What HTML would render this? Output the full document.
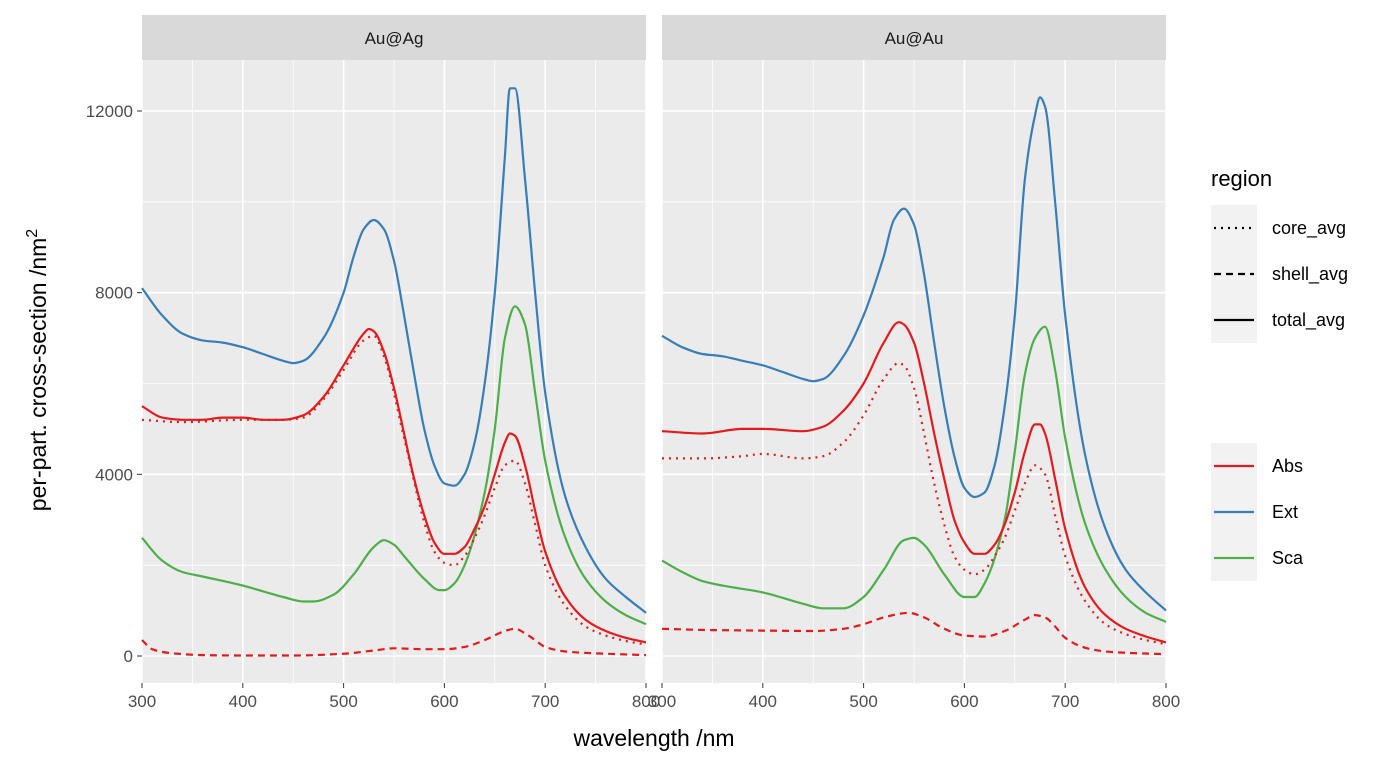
<!DOCTYPE html>
<html><head><meta charset="utf-8"><style>
body{margin:0;background:#fff;font-family:"Liberation Sans",Arial,sans-serif}
svg text{font-family:"Liberation Sans",Arial,sans-serif}
</style></head><body>
<svg id="chart" width="1400" height="768" xmlns="http://www.w3.org/2000/svg"></svg>
<script>
// ---- data ----
const panels = ["Au@Ag","Au@Au"];
const xTicks = [300,400,500,600,700,800];
const yTicks = [0,4000,8000,12000];
const yTickLabels = ["0","4000","8000","12000"];

// Au@Ag
const agExtX=[300,320,340,360,380,400,420,440,450,460,480,500,510,520,530,540,550,560,570,580,590,600,610,620,630,640,650,660,665,670,680,690,700,720,740,760,780,800];
const agExtY=[8100,7500,7100,6950,6900,6800,6650,6500,6450,6500,7000,8000,8800,9400,9600,9400,8700,7500,6200,5000,4200,3800,3750,4000,4700,6000,8000,11000,12500,12500,10500,8000,5800,3500,2400,1700,1300,950];
const agAbsX=[300,320,340,360,380,400,420,440,460,480,500,520,525,530,540,550,560,570,580,590,600,610,620,630,640,650,660,665,670,680,690,700,720,740,760,780,800];
const agAbsY=[5500,5250,5200,5200,5250,5250,5200,5200,5300,5700,6400,7100,7200,7150,6700,5900,4900,3900,3100,2500,2250,2250,2400,2800,3300,4000,4700,4900,4850,4200,3200,2300,1300,800,550,400,300];
const agCoreX=[300,340,400,440,460,480,500,520,530,540,560,580,590,600,610,620,630,640,650,660,670,680,690,700,720,740,760,780,800];
const agCoreY=[5200,5150,5200,5200,5250,5650,6300,6950,7050,6600,4800,2950,2300,2050,2000,2200,2600,3100,3700,4200,4300,3800,2900,2000,1100,650,450,330,250];
const agShellX=[300,310,330,360,400,450,500,530,550,580,600,620,640,660,670,680,690,700,720,760,800];
const agShellY=[350,150,60,20,10,10,50,120,170,150,150,200,350,550,600,500,350,200,100,50,20];
const agScaX=[300,320,340,360,400,440,460,470,490,510,530,540,550,560,580,595,600,610,620,640,650,660,670,680,690,700,720,740,760,780,800];
const agScaY=[2600,2100,1850,1750,1550,1300,1200,1200,1350,1800,2400,2550,2450,2200,1700,1450,1450,1600,2000,3600,5000,7000,7700,7300,5800,4300,2600,1700,1200,900,700];

// Au@Au
const auExtX=[300,320,340,360,380,400,420,440,450,460,480,500,520,530,540,550,560,570,580,590,600,610,620,630,640,650,660,670,675,680,690,700,720,740,760,780,800];
const auExtY=[7050,6800,6650,6600,6500,6400,6250,6100,6050,6100,6600,7500,8800,9600,9850,9500,8400,6900,5500,4400,3700,3500,3600,4200,5500,7500,10500,11900,12300,12100,10000,7500,4400,2800,1900,1400,1000];
const auAbsX=[300,340,380,400,440,460,480,500,520,535,540,550,560,570,580,590,600,610,620,630,640,650,660,670,675,680,690,700,720,740,760,780,800];
const auAbsY=[4950,4900,5000,5000,4950,5050,5400,6000,6900,7350,7300,6900,6000,4900,3900,3000,2500,2250,2250,2450,2900,3600,4500,5100,5100,4900,3900,2800,1500,900,600,430,300];
const auCoreX=[300,340,380,400,440,460,480,500,520,535,540,550,560,570,580,590,600,610,620,630,640,650,660,670,680,690,700,720,740,760,780,800];
const auCoreY=[4350,4350,4400,4450,4350,4400,4700,5300,6100,6450,6400,5900,4900,3800,2900,2200,1900,1800,1900,2200,2600,3200,3800,4200,4000,3100,2200,1200,700,480,350,260];
const auShellX=[300,350,400,450,480,500,520,545,560,580,600,620,640,660,670,680,690,700,720,740,760,800];
const auShellY=[600,570,560,550,600,700,850,950,850,600,450,430,550,800,900,850,650,400,180,100,70,40];
const auScaX=[300,320,340,360,400,440,460,480,500,520,540,550,560,580,600,610,620,640,650,660,670,680,690,700,720,740,760,780,800];
const auScaY=[2100,1850,1650,1550,1400,1150,1050,1050,1300,1900,2550,2600,2450,1800,1300,1300,1600,3000,4500,6200,7000,7250,6300,4800,2900,1900,1300,950,750];

const series = [
 {p:0,name:"ext-total",x:agExtX,y:agExtY,c:"#377EB8",d:""},
 {p:0,name:"sca-total",x:agScaX,y:agScaY,c:"#4DAF4A",d:""},
 {p:0,name:"abs-shell",x:agShellX,y:agShellY,c:"#E41A1C",d:"7,5"},
 {p:0,name:"abs-core",x:agCoreX,y:agCoreY,c:"#E41A1C",d:"2,5"},
 {p:0,name:"abs-total",x:agAbsX,y:agAbsY,c:"#E41A1C",d:""},
 {p:1,name:"ext-total",x:auExtX,y:auExtY,c:"#377EB8",d:""},
 {p:1,name:"sca-total",x:auScaX,y:auScaY,c:"#4DAF4A",d:""},
 {p:1,name:"abs-shell",x:auShellX,y:auShellY,c:"#E41A1C",d:"7,5"},
 {p:1,name:"abs-core",x:auCoreX,y:auCoreY,c:"#E41A1C",d:"2,5"},
 {p:1,name:"abs-total",x:auAbsX,y:auAbsY,c:"#E41A1C",d:""}
];

// ---- layout ----
const NS="http://www.w3.org/2000/svg";
const svg=document.getElementById('chart');
const pLeft=[142,662], pW=504, pTop=60, pBot=683;
function xs(p,v){return pLeft[p]+(v-300)/500*pW;}
function ys(v){return 656-v*(545/12000);}
function el(tag,attrs,parent){const e=document.createElementNS(NS,tag);for(const k in attrs)e.setAttribute(k,attrs[k]);(parent||svg).appendChild(e);return e;}
// monotone cubic path
function smoothPath(P){
  const n=P.length, m=[], d=[];
  for(let i=0;i<n-1;i++){d.push((P[i+1][1]-P[i][1])/(P[i+1][0]-P[i][0]));}
  m[0]=d[0]; m[n-1]=d[n-2];
  for(let i=1;i<n-1;i++){ if(d[i-1]*d[i]<=0) m[i]=0; else { const h0=P[i][0]-P[i-1][0],h1=P[i+1][0]-P[i][0]; m[i]=3*(h0+h1)/((2*h1+h0)/d[i-1]+(h1+2*h0)/d[i]); } }
  let s="M"+P[0][0].toFixed(1)+","+P[0][1].toFixed(1);
  for(let i=0;i<n-1;i++){
    const h=(P[i+1][0]-P[i][0])/3;
    s+=" C"+(P[i][0]+h).toFixed(1)+","+(P[i][1]+m[i]*h).toFixed(1)+" "+(P[i+1][0]-h).toFixed(1)+","+(P[i+1][1]-m[i+1]*h).toFixed(1)+" "+P[i+1][0].toFixed(1)+","+P[i+1][1].toFixed(1);
  }
  return s;
}

panels.forEach((name,p)=>{
  const g=el('g',{});
  
  
  const bg=el('rect',{x:pLeft[p],y:pTop,width:pW,height:pBot-pTop,fill:"#EBEBEB"},g);
  
  
  [350,450,550,650,750].forEach(v=>el('line',{x1:xs(p,v),x2:xs(p,v),y1:pTop,y2:pBot,stroke:"#fff","stroke-width":0.8},g));
  [2000,6000,10000].forEach(v=>el('line',{x1:pLeft[p],x2:pLeft[p]+pW,y1:ys(v),y2:ys(v),stroke:"#fff","stroke-width":0.8},g));
  xTicks.forEach(v=>el('line',{x1:xs(p,v),x2:xs(p,v),y1:pTop,y2:pBot,stroke:"#fff","stroke-width":1.6},g));
  yTicks.forEach(v=>el('line',{x1:pLeft[p],x2:pLeft[p]+pW,y1:ys(v),y2:ys(v),stroke:"#fff","stroke-width":1.6},g));
  const st=el('rect',{x:pLeft[p],y:15,width:pW,height:45,fill:"#D9D9D9"},g);
  
  
  const stt=el('text',{x:pLeft[p]+pW/2,y:44,"text-anchor":"middle","font-size":17,fill:"#1A1A1A"},g);
  stt.textContent=name;
  
  
  xTicks.forEach(v=>{
    el('line',{x1:xs(p,v),x2:xs(p,v),y1:pBot,y2:pBot+5,stroke:"#333","stroke-width":1},g);
    const t=el('text',{x:xs(p,v),y:pBot+24,"text-anchor":"middle","font-size":17,fill:"#4D4D4D"},g);
    t.textContent=v;
    
    
  });
});
yTicks.forEach((v,i)=>{
  el('line',{x1:137,x2:142,y1:ys(v),y2:ys(v),stroke:"#333","stroke-width":1});
  const t=el('text',{x:133,y:ys(v)+6,"text-anchor":"end","font-size":17,fill:"#4D4D4D"});
  t.textContent=yTickLabels[i];
  
  
});
series.forEach(s=>{
  const P=s.x.map((v,i)=>[xs(s.p,v),ys(s.y[i])]);
  const l=el('path',{d:smoothPath(P),fill:"none",stroke:s.c,"stroke-width":2.2,"stroke-dasharray":s.d||"none","stroke-linejoin":"round"});
  
  
});
const xt=el('text',{x:654,y:746,"text-anchor":"middle","font-size":23,fill:"#000"});
xt.textContent="wavelength /nm";


const yt=el('text',{x:0,y:0,"text-anchor":"middle","font-size":23,fill:"#000",transform:"translate(46,370) rotate(-90)"});
yt.innerHTML='per-part. cross-section /nm<tspan dy="-9" font-size="16">2</tspan>';


const lt=el('text',{x:1211,y:186,"font-size":22,fill:"#000"});
lt.textContent="region";


const regionLabels=["core_avg","shell_avg","total_avg"];
const regionDash=["2,5","7,5",""];
regionLabels.forEach((r,i)=>{
  const y0=205+i*46;
  const g=el('g',{});
  
  
  el('rect',{x:1211,y:y0,width:46,height:46,fill:"#F2F2F2"},g);
  el('line',{x1:1214,x2:1254,y1:y0+23,y2:y0+23,stroke:"#000","stroke-width":2.2,"stroke-dasharray":regionDash[i]||"none"},g);
  const t=el('text',{x:1272,y:y0+29,"font-size":18,fill:"#000"},g);t.textContent=r;
});
const typeLabels=["Abs","Ext","Sca"];
const typeColors=["#E41A1C","#377EB8","#4DAF4A"];
typeLabels.forEach((r,i)=>{
  const y0=443+i*46;
  const g=el('g',{});
  
  
  el('rect',{x:1211,y:y0,width:46,height:46,fill:"#F2F2F2"},g);
  el('line',{x1:1214,x2:1254,y1:y0+23,y2:y0+23,stroke:typeColors[i],"stroke-width":2.2},g);
  const t=el('text',{x:1272,y:y0+29,"font-size":18,fill:"#000"},g);t.textContent=r;
});
</script>
</body></html>
